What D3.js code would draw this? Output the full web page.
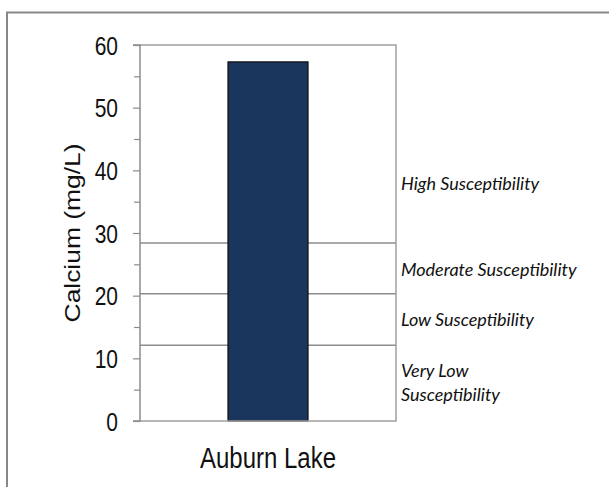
<!DOCTYPE html>
<html>
<head>
<meta charset="utf-8">
<script src="https://cdn.jsdelivr.net/npm/d3@7"></script>
<style>
  html, body { margin: 0; padding: 0; background: #fff; }
  svg { display: block; }
</style>
</head>
<body>
<svg id="chart" width="609" height="487"></svg>
<script>
const categories = ["Auburn Lake"];
const calciumValues = [57.3];
const thresholdValues = [12.1, 20.3, 28.4];
const zoneLabels = [
  { lines: ["High Susceptibility"], value: 36.8 },
  { lines: ["Moderate Susceptibility"], value: 23.2 },
  { lines: ["Low Susceptibility"], value: 15.2 },
  { lines: ["Very Low", "Susceptibility"], value: 7.1 }
];
const yTicks = [0, 10, 20, 30, 40, 50, 60];
const yMinorTicks = [5, 15, 25, 35, 45, 55];
const yTitle = "Calcium (mg/L)";

const svg = d3.select("#chart");
const W = 609, H = 487;
const plot = { left: 140, right: 396, top: 45, bottom: 421 };
const axisColor = "#8c8c8c";
const stretch = 1.2;

// outer frame
svg.append("path")
  .attr("d", `M7,${H} V12.5 H${W}`)
  .attr("fill", "none")
  .attr("stroke", "#888")
  .attr("stroke-width", 2);

const x = d3.scaleBand()
  .domain(categories)
  .range([plot.left, plot.right])
  .paddingInner(0.6875)
  .paddingOuter(0.34375);

const y = d3.scaleLinear().domain([0, 60]).range([plot.bottom, plot.top]);

// threshold lines (behind bar)
svg.append("g").selectAll("line")
  .data(thresholdValues)
  .join("line")
  .attr("x1", plot.left).attr("x2", plot.right)
  .attr("y1", d => y(d)).attr("y2", d => y(d))
  .attr("stroke", axisColor).attr("stroke-width", 1.5);

// bars
svg.append("g").selectAll("rect")
  .data(categories.map((c, i) => ({ c, v: calciumValues[i] })))
  .join("rect")
  .attr("x", d => x(d.c))
  .attr("y", d => y(d.v))
  .attr("width", x.bandwidth())
  .attr("height", d => y(0) - y(d.v))
  .attr("fill", "#1b365d")
  .attr("stroke", "#0a0a0a")
  .attr("stroke-width", 1.2);

// plot border (top, right, bottom)
svg.append("path")
  .attr("d", `M${plot.left},${plot.top} H${plot.right} V${plot.bottom} H${plot.left}`)
  .attr("fill", "none")
  .attr("stroke", "#a0a0a0")
  .attr("stroke-width", 1.5);

// y axis
const yAxis = d3.axisLeft(y).tickValues(yTicks).tickSize(7).tickPadding(15).tickFormat(d3.format("d"));
const gy = svg.append("g").attr("transform", `translate(${plot.left},0)`).call(yAxis);
gy.select(".domain").attr("stroke", axisColor).attr("stroke-width", 1.5)
  .attr("d", `M-7,${plot.top}H0V${plot.bottom}H-7`);
gy.selectAll(".tick line").attr("stroke", axisColor).attr("stroke-width", 1.2);
gy.selectAll(".tick text")
  .attr("font-family", "Liberation Sans, Arial, sans-serif")
  .attr("font-size", 21)
  .attr("fill", "#111")
  .attr("dy", null)
  .attr("y", 0)
  .attr("transform", `translate(0,${0.36 * 21 * stretch}) scale(1,${stretch})`);

const yMinor = d3.axisLeft(y).tickValues(yMinorTicks).tickSize(6).tickFormat("");
const gym = svg.append("g").attr("transform", `translate(${plot.left},0)`).call(yMinor);
gym.select(".domain").remove();
gym.selectAll(".tick line").attr("stroke", axisColor).attr("stroke-width", 1.2);

// y title
svg.append("text")
  .attr("transform", `translate(80,${(plot.top + plot.bottom) / 2}) rotate(-90) scale(${stretch},1)`)
  .attr("text-anchor", "middle")
  .attr("font-family", "Liberation Sans, Arial, sans-serif")
  .attr("font-size", 22)
  .attr("fill", "#111")
  .text(yTitle);

// x labels
svg.append("g").selectAll("text")
  .data(categories)
  .join("text")
  .attr("transform", d => `translate(${x(d) + x.bandwidth() / 2},468) scale(1,${stretch})`)
  .attr("text-anchor", "middle")
  .attr("font-family", "Liberation Sans, Arial, sans-serif")
  .attr("font-size", 24)
  .attr("fill", "#111")
  .text(d => d);

// zone labels
const zg = svg.append("g");
zoneLabels.forEach(z => {
  const t = zg.append("text")
    .attr("x", 401)
    .attr("y", y(z.value))
    .attr("font-family", "Lato, 'Open Sans', sans-serif")
    .attr("font-style", "italic")
    .attr("font-size", 18)
    .attr("fill", "#111");
  z.lines.forEach((l, i) => {
    t.append("tspan").attr("x", 401).attr("dy", i === 0 ? 0 : 24).text(l);
  });
});
</script>
</body>
</html>
